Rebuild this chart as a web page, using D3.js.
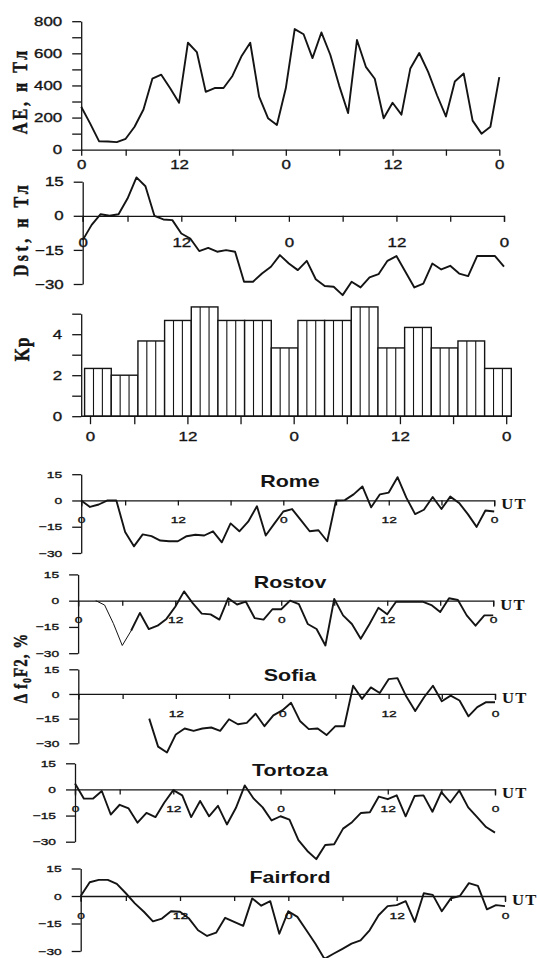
<!DOCTYPE html>
<html>
<head>
<meta charset="utf-8">
<script src="https://cdn.jsdelivr.net/npm/d3@7"></script>
<style>
  body { margin: 0; background: #fff; }
  svg { display: block; }
</style>
</head>
<body>
<svg id="chart" width="537" height="958"></svg>
<script>
// UT hours; the first hourly sample sits on the "0" tick
const hourTicks = [1, 6, 12, 18, 24, 30, 36, 42, 48];
const hourTickLabels = ["0", "", "12", "", "0", "", "12", "", "0"];

const aeTicks = [0, 100, 200, 300, 400, 500, 600, 700, 800];
const aeValues = [267, 164, 53, 51, 47, 68, 143, 250, 442, 467, 382, 292, 666, 608, 360, 384,
  384, 459, 580, 666, 331, 196, 154, 382, 751, 719, 570, 730, 591, 399, 228, 683,
  516, 442, 196, 292, 218, 506, 602, 484, 339, 207, 425, 474, 181, 100, 143, 452];

const dstTicks = [-30, -15, 0, 15];
const dstValues = [-10.7, -4, 0.7, 0, 0.7, 7.6, 16.9, 13, 0, -1.6, -1.9, -7.8, -10, -15.5, -14.1, -15.8,
  -15.1, -15.8, -29, -29, -25.4, -22.4, -17.3, -21, -23.9, -19.8, -27.9, -30.9, -31.2, -34.9, -29, -31.5,
  -27.1, -25.7, -19.8, -17.7, -24.6, -31.5, -29.8, -21, -23.6, -22, -25.4, -26.5, -17.7, -17.7, -17.7, -22.4];

// Kp, one value per 3-hour interval
const kpTicks = [0, 1, 2, 3, 4, 5];
const kpValues = [2.33, 2, 3.67, 4.67, 5.33, 4.67, 4.67, 3.33, 4.67, 4.67, 5.33, 3.33, 4.33, 3.33, 3.67, 2.33];

// delta foF2, %
const foF2Ticks = [-30, -15, 0, 15];
const stations = ["Rome", "Rostov", "Sofia", "Tortoza", "Fairford"];
const stationStart = [1, 3, 9, 1, 1];
const romeValues = [0, -3.7, -2.3, 0, 0, -18, -26.2, -19.4, -20.4, -22.9, -23.3, -23.3, -20.4, -19.6, -20, -17.6,
  -23.9, -13.1, -17.6, -12.1, -3.3, -20, -13.1, -6.3, -4.9, -11.2, -17.6, -17, -23.3, 0, 0.2, 3.5,
  8, -3.9, 3.5, 4.5, 13.3, 1.6, -7.8, -5.3, 2, -4.9, 2.2, -1.4, -7.8, -15.1, -5.7, -6.3];
const rostovValues = [0, -2.5, -13.1, -25.6, -17.2, -7, -16.2, -14.3, -10.4, -3.5, 5.3, -1.6, -7.4, -7.8, -10.8, 1.4,
  -2.2, -0.6, -10, -10.8, -4.9, -4.9, 0, -2, -13.3, -16.2, -25.6, 1, -8.4, -13.3, -21.7, -13.3,
  -4.1, -7.8, -0.6, -0.6, -0.6, -0.6, -2.5, -6.5, 1.4, 0.4, -8.4, -14.3, -8.4, -8.4];
const sofiaValues = [-15, -32, -35.6, -24.6, -21, -22.4, -21, -20.4, -22.4, -15.4, -18.4, -17.6, -12, -19.6, -13, -10,
  -5.4, -16.4, -21.4, -21, -25, -19.6, -19.6, 5, -3, 4, 0.6, 9, 9.6, -1.6, -10.4, -2,
  5, -4.4, -1, -4, -13.6, -8, -5, -5];
const tortozaValues = [3.4, -5.3, -5.3, -0.9, -14.4, -8.8, -10.9, -19.1, -13.5, -15.9, -7.5, -0.4, -3.4, -15.9, -6.6, -15.4,
  -9.4, -20.1, -10.7, 2.3, -5.3, -10.3, -17.8, -15.4, -17.3, -29.1, -35.3, -40, -31.9, -31.5, -22.5, -18.8,
  -13.5, -13.1, -4.1, -5.6, -3.4, -15.4, -3.8, -3.4, -12.8, -1.5, -7.5, -0.6, -10.3, -15.9, -21.6, -24.8];
const fairfordValues = [0, 7.5, 8.8, 8.8, 6.6, 1.5, -4, -8.6, -13.8, -12.3, -8.3, -8.6, -12.3, -18.7, -21.8, -20,
  -11.9, -14.1, -16.3, -1.3, -5.3, -2.8, -20.6, -8.3, -11.4, -18.7, -26, -34.3, -31.5, -28.8, -26, -24.2,
  -18.7, -10.5, -5.5, -5, -2.8, -14.1, 1.5, 0.6, -8.3, -1.3, 0, 7, 5.5, -7.3, -5, -5.5];
const stationValues = [romeValues, rostovValues, sofiaValues, tortozaValues, fairfordValues];

// ---- layout ----
const ink = "#141414";
const sansFont = "'Liberation Sans', Arial, sans-serif";
const serifFont = "'Liberation Serif', 'Times New Roman', serif";

const stationLayout = [
  { x0: 81.2, x1: 494.2, top: 474.2, bottom: 553, startLabel: true, thinHead: 0 },
  { x0: 78.1, x1: 493.2, top: 574.4, bottom: 653.2, startLabel: true, thinHead: 5 },
  { x0: 78.3, x1: 495, top: 669.3, bottom: 743.3, startLabel: false, thinHead: 0 },
  { x0: 75, x1: 495, top: 763.3, bottom: 841.7, startLabel: true, thinHead: 0 },
  { x0: 80.7, x1: 505, top: 868.5, bottom: 951, startLabel: true, thinHead: 0 }
];

const svg = d3.select("#chart");
svg.append("rect").attr("width", 537).attr("height", 958).attr("fill", "#fff");

// scanned print: digits are wide and heavy
function styleAxis(g, size, sx) {
  g.attr("font-size", null).attr("font-family", null);
  g.selectAll("path, line").attr("stroke", ink).attr("stroke-width", 1.3);
  g.selectAll("text")
    .attr("fill", ink)
    .attr("stroke", ink)
    .attr("stroke-width", 0.35)
    .style("font-family", sansFont)
    .style("font-size", size + "px")
    .each(function () {
      const t = d3.select(this);
      t.attr("x", (+t.attr("x") || 0) / sx).attr("transform", `scale(${sx},1)`);
    });
}

function sideLabel(x, y, size, spacing) {
  return svg.append("text")
    .attr("transform", `translate(${x},${y}) scale(1.25,1) rotate(-90)`)
    .attr("text-anchor", "middle")
    .attr("fill", ink)
    .attr("stroke", ink)
    .attr("stroke-width", 0.4)
    .style("font-family", serifFont)
    .style("font-weight", "bold")
    .style("font-size", size + "px")
    .style("letter-spacing", spacing + "px");
}

function drawLine(x, y, values, start, width) {
  const line = d3.line()
    .x((d, i) => x(start + i))
    .y(d => y(d));
  svg.append("path")
    .datum(values)
    .attr("fill", "none")
    .attr("stroke", ink)
    .attr("stroke-width", width)
    .attr("stroke-linejoin", "round")
    .attr("d", line);
}

// ---- AE ----
const aeX = d3.scaleLinear().domain([1, 48]).range([81.2, 499.3]);
const aeY = d3.scaleLinear().domain([0, 800]).range([149.7, 21.2]);

svg.append("g")
  .attr("transform", `translate(0,${aeY(0)})`)
  .call(d3.axisBottom(aeX).tickValues(hourTicks).tickSize(6).tickSizeOuter(0).tickPadding(4)
    .tickFormat((d, i) => hourTickLabels[i]))
  .call(g => styleAxis(g, 13, 1.3));

svg.append("g")
  .attr("transform", `translate(${aeX(1)},0)`)
  .call(d3.axisLeft(aeY).tickValues(aeTicks).tickSize(9).tickSizeOuter(0).tickPadding(10)
    .tickFormat(d => (d % 200 ? "" : d)))
  .call(g => styleAxis(g, 13, 1.3));

drawLine(aeX, aeY, aeValues, 1, 1.9);
sideLabel(27, 91, 16, 3).text("AE, н Тл");

// ---- Dst ----
const dstX = d3.scaleLinear().domain([1, 48]).range([82.7, 504]);
const dstY = d3.scaleLinear().domain([-30, 15]).range([284, 181.7]);

svg.append("g")
  .attr("transform", `translate(0,${dstY(0)})`)
  .call(d3.axisBottom(dstX).tickValues(hourTicks).tickSize(6).tickSizeOuter(6).tickPadding(16)
    .tickFormat((d, i) => hourTickLabels[i]))
  .call(g => styleAxis(g, 13, 1.3));

svg.append("g")
  .attr("transform", `translate(${dstX(1)},0)`)
  .call(d3.axisLeft(dstY).tickValues(dstTicks).tickSize(9).tickSizeOuter(0).tickPadding(10))
  .call(g => styleAxis(g, 13, 1.3));

drawLine(dstX, dstY, dstValues, 1, 1.9);
sideLabel(28, 229, 16, 3.5).text("Dst, н Тл");

// ---- Kp ----
const kpBand = d3.scaleBand().domain(d3.range(kpValues.length)).range([84.6, 511.3]);
const kpX = d3.scaleLinear().domain([1, 48]).range([90, 506.2]);
const kpY = d3.scaleLinear().domain([0, 5]).range([416.2, 313.7]);
const kpAxisX = 81.2;

const bars = svg.append("g").selectAll("g").data(kpValues).join("g");
bars.append("rect")
  .attr("x", (d, i) => kpBand(i))
  .attr("y", d => kpY(d))
  .attr("width", kpBand.bandwidth())
  .attr("height", d => kpY(0) - kpY(d))
  .attr("fill", "#fff")
  .attr("stroke", ink)
  .attr("stroke-width", 1.4);
bars.selectAll("line")
  .data((d, i) => [1, 2].map(k => ({ x: kpBand(i) + kpBand.bandwidth() * k / 3, v: d })))
  .join("line")
  .attr("x1", d => d.x).attr("x2", d => d.x)
  .attr("y1", d => kpY(d.v)).attr("y2", kpY(0))
  .attr("stroke", ink)
  .attr("stroke-width", 1.1);

svg.append("line")
  .attr("x1", kpAxisX).attr("x2", kpBand.range()[1])
  .attr("y1", kpY(0)).attr("y2", kpY(0))
  .attr("stroke", ink).attr("stroke-width", 1.5);

svg.append("g")
  .attr("transform", `translate(0,${kpY(0)})`)
  .call(d3.axisBottom(kpX).tickValues(hourTicks).tickSize(8).tickSizeOuter(0).tickPadding(8)
    .tickFormat((d, i) => hourTickLabels[i]))
  .call(g => g.select(".domain").remove())
  .call(g => styleAxis(g, 13, 1.3));

svg.append("g")
  .attr("transform", `translate(${kpAxisX},0)`)
  .call(d3.axisLeft(kpY).tickValues(kpTicks).tickSize(9).tickSizeOuter(0).tickPadding(10)
    .tickFormat(d => (d % 2 ? "" : d)))
  .call(g => styleAxis(g, 13, 1.3));

sideLabel(29, 349, 17, 1).text("Kp");

// ---- delta foF2 stations ----
stations.forEach((name, k) => {
  const lay = stationLayout[k];
  const x = d3.scaleLinear().domain([1, 48]).range([lay.x0, lay.x1]);
  const y = d3.scaleLinear().domain([-30, 15]).range([lay.bottom, lay.top]);
  const start = stationStart[k];
  const values = stationValues[k];

  svg.append("g")
    .attr("transform", `translate(0,${y(0)})`)
    .call(d3.axisBottom(x).tickValues(hourTicks).tickSize(5).tickSizeOuter(6).tickPadding(11)
      .tickFormat((d, i) => (i === 0 && !lay.startLabel ? "" : hourTickLabels[i])))
    .call(g => styleAxis(g, 9.5, 1.45));

  svg.append("g")
    .attr("transform", `translate(${lay.x0},0)`)
    .call(d3.axisLeft(y).tickValues(foF2Ticks).tickSize(9).tickSizeOuter(0).tickPadding(10))
    .call(g => styleAxis(g, 9.5, 1.45));

  // Rostov starts with a thinner stroke
  if (lay.thinHead) {
    drawLine(x, y, values.slice(0, lay.thinHead), start, 1);
    drawLine(x, y, values.slice(lay.thinHead - 1), start + lay.thinHead - 1, 1.9);
  } else {
    drawLine(x, y, values, start, 1.9);
  }

  svg.append("text")
    .attr("transform", `translate(290,${y(0) - 13}) scale(1.3,1)`)
    .attr("text-anchor", "middle")
    .attr("fill", ink)
    .style("font-family", sansFont)
    .style("font-weight", "bold")
    .style("font-size", "16.5px")
    .text(name);

  svg.append("text")
    .attr("transform", `translate(${lay.x1 + 7},${y(0) + 9}) scale(1.15,1)`)
    .attr("fill", ink)
    .style("font-family", serifFont)
    .style("font-weight", "bold")
    .style("font-size", "14.5px")
    .style("letter-spacing", "1px")
    .text("UT");
});

const foLabel = sideLabel(27, 668, 15, 1);
foLabel.append("tspan").text("Δ f");
foLabel.append("tspan").attr("dy", 3).style("font-size", "10px").text("0");
foLabel.append("tspan").attr("dy", -3).text("F2, %");
</script>
</body>
</html>
